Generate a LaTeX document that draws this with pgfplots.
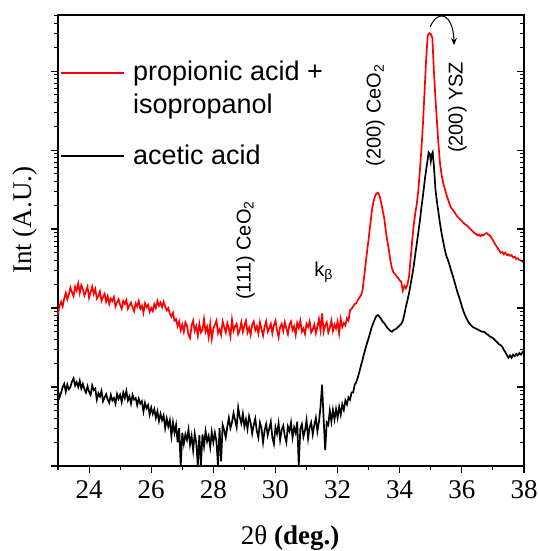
\documentclass[border=0pt]{standalone}
\usepackage{pgfplots}
\pgfplotsset{compat=1.18}
\usepackage{fontspec}
\setmainfont{Liberation Serif}
\newfontfamily\arial{Liberation Sans}
\usetikzlibrary{arrows.meta}
\pgfplotstableread{
x v
23.00 1.92
23.05 2.03
23.10 2.08
23.15 2.02
23.20 2.12
23.25 2.19
23.30 2.11
23.35 2.17
23.40 2.26
23.45 2.20
23.50 2.15
23.55 2.27
23.60 2.22
23.65 2.31
23.70 2.19
23.75 2.29
23.80 2.24
23.85 2.16
23.90 2.21
23.95 2.27
24.00 2.13
24.05 2.20
24.10 2.27
24.15 2.18
24.20 2.24
24.25 2.12
24.30 2.15
24.35 2.21
24.40 2.09
24.45 2.14
24.50 2.18
24.55 2.08
24.60 2.15
24.65 2.05
24.70 2.12
24.75 2.09
24.80 2.14
24.85 2.02
24.90 2.07
24.95 2.11
25.00 2.04
25.05 1.99
25.10 2.09
25.15 2.05
25.20 2.10
25.25 1.99
25.30 2.03
25.35 2.07
25.40 2.01
25.45 1.96
25.50 2.06
25.55 2.02
25.60 2.09
25.65 1.99
25.70 2.03
25.75 1.94
25.80 2.06
25.85 2.01
25.90 2.04
25.95 1.95
26.00 2.00
26.05 1.96
26.10 2.05
26.15 2.00
26.20 2.09
26.25 2.03
26.30 2.07
26.35 2.01
26.40 2.08
26.45 2.02
26.50 1.97
26.55 2.00
26.60 1.93
26.65 1.89
26.70 1.94
26.75 1.84
26.80 1.86
26.85 1.77
26.90 1.83
26.95 1.72
27.00 1.79
27.05 1.70
27.10 1.82
27.15 1.78
27.20 1.66
27.25 1.62
27.30 1.78
27.35 1.84
27.40 1.71
27.45 1.77
27.50 1.65
27.55 1.80
27.60 1.69
27.65 1.72
27.70 1.86
27.75 1.70
27.80 1.76
27.85 1.63
27.90 1.80
27.95 1.61
28.00 1.74
28.05 1.79
28.10 1.84
28.15 1.68
28.20 1.73
28.25 1.66
28.30 1.83
28.35 1.76
28.40 1.69
28.45 1.81
28.50 1.74
28.55 1.64
28.60 1.85
28.65 1.71
28.70 1.77
28.75 1.80
28.80 1.67
28.85 1.72
28.90 1.82
28.95 1.70
29.00 1.78
29.05 1.84
29.10 1.69
29.15 1.75
29.20 1.66
29.25 1.79
29.30 1.83
29.35 1.72
29.40 1.77
29.45 1.68
29.50 1.82
29.55 1.73
29.60 1.65
29.65 1.76
29.70 1.83
29.75 1.70
29.80 1.74
29.85 1.80
29.90 1.68
29.95 1.78
30.00 1.84
30.05 1.72
30.10 1.63
30.15 1.76
30.20 1.80
30.25 1.71
30.30 1.82
30.35 1.74
30.40 1.67
30.45 1.79
30.50 1.83
30.55 1.72
30.60 1.77
30.65 1.66
30.70 1.81
30.75 1.75
30.80 1.84
30.85 1.70
30.90 1.74
30.95 1.67
31.00 1.80
31.05 1.76
31.10 1.83
31.15 1.69
31.20 1.73
31.25 1.79
31.30 1.68
31.35 1.77
31.40 1.86
31.45 1.72
31.50 1.93
31.55 1.70
31.60 1.78
31.65 1.82
31.70 1.69
31.75 1.75
31.80 1.84
31.85 1.71
31.90 1.79
31.95 1.74
32.00 1.83
32.05 1.68
32.10 1.86
32.15 1.76
32.20 1.81
32.25 1.78
32.30 1.87
32.35 1.84
32.40 1.97
32.45 1.99
32.50 2.02
32.55 2.05
32.60 2.06
32.65 2.10
32.70 2.13
32.75 2.16
32.80 2.22
32.85 2.38
32.90 2.55
32.95 2.72
33.00 2.88
33.05 3.05
33.10 3.22
33.15 3.34
33.20 3.41
33.25 3.45
33.30 3.46
33.35 3.42
33.40 3.34
33.45 3.24
33.50 3.14
33.55 2.98
33.60 2.85
33.65 2.74
33.70 2.60
33.75 2.50
33.80 2.45
33.85 2.43
33.90 2.40
33.95 2.38
34.00 2.35
34.05 2.33
34.10 2.22
34.15 2.28
34.20 2.25
34.25 2.30
34.30 2.40
34.35 2.62
34.40 2.85
34.45 3.05
34.50 3.20
34.55 3.32
34.60 3.50
34.65 3.75
34.70 4.02
34.75 4.35
34.80 4.75
34.85 5.15
34.90 5.45
34.95 5.48
35.00 5.47
35.05 5.42
35.10 5.00
35.15 4.65
35.20 4.35
35.25 4.05
35.30 3.82
35.35 3.68
35.40 3.58
35.45 3.51
35.50 3.44
35.55 3.38
35.60 3.32
35.65 3.27
35.70 3.25
35.75 3.22
35.80 3.19
35.85 3.16
35.90 3.14
35.95 3.12
36.00 3.10
36.05 3.08
36.10 3.06
36.15 3.05
36.20 3.03
36.25 3.01
36.30 2.99
36.35 2.97
36.40 2.95
36.45 2.94
36.50 2.92
36.55 2.93
36.60 2.91
36.65 2.93
36.70 2.92
36.75 2.94
36.80 2.95
36.85 2.93
36.90 2.92
36.95 2.89
37.00 2.86
37.05 2.82
37.10 2.79
37.15 2.76
37.20 2.73
37.25 2.70
37.30 2.71
37.35 2.68
37.40 2.70
37.45 2.67
37.50 2.68
37.55 2.66
37.60 2.67
37.65 2.64
37.70 2.65
37.75 2.62
37.80 2.63
37.85 2.61
37.90 2.60
37.95 2.59
38.00 2.57
}\redtable
\pgfplotstableread{
x v
23.00 0.95
23.05 0.87
23.10 0.93
23.15 1.00
23.20 1.04
23.25 0.94
23.30 1.03
23.35 0.97
23.40 1.00
23.45 1.07
23.50 1.11
23.55 1.02
23.60 1.06
23.65 1.00
23.70 1.08
23.75 0.98
23.80 1.04
23.85 0.97
23.90 0.93
23.95 1.01
24.00 0.94
24.05 0.90
24.10 1.02
24.15 0.96
24.20 0.98
24.25 0.84
24.30 0.92
24.35 0.88
24.40 0.95
24.45 0.82
24.50 0.87
24.55 0.91
24.60 0.84
24.65 0.80
24.70 0.90
24.75 0.83
24.80 0.86
24.85 0.79
24.90 0.91
24.95 0.85
25.00 0.90
25.05 0.81
25.10 0.93
25.15 0.86
25.20 0.95
25.25 0.83
25.30 0.88
25.35 0.79
25.40 0.90
25.45 0.84
25.50 0.86
25.55 0.77
25.60 0.85
25.65 0.79
25.70 0.82
25.75 0.69
25.80 0.80
25.85 0.73
25.90 0.77
25.95 0.65
26.00 0.74
26.05 0.66
26.10 0.72
26.15 0.61
26.20 0.69
26.25 0.57
26.30 0.66
26.35 0.58
26.40 0.64
26.45 0.48
26.50 0.60
26.55 0.50
26.60 0.58
26.65 0.38
26.70 0.55
26.75 0.42
26.80 0.52
26.85 0.30
26.90 0.48
26.95 0.00
27.00 0.42
27.05 0.28
27.10 0.40
27.15 0.33
27.20 0.46
27.25 0.27
27.30 0.38
27.35 0.20
27.40 0.41
27.45 0.30
27.50 0.00
27.55 0.39
27.60 0.00
27.65 0.40
27.70 0.25
27.75 0.44
27.80 0.31
27.85 0.38
27.90 0.24
27.95 0.43
28.00 0.30
28.05 0.42
28.10 0.31
28.15 0.00
28.20 0.48
28.25 0.06
28.30 0.52
28.35 0.45
28.40 0.36
28.45 0.50
28.50 0.61
28.55 0.48
28.60 0.55
28.65 0.67
28.70 0.58
28.75 0.49
28.80 0.74
28.85 0.62
28.90 0.54
28.95 0.66
29.00 0.50
29.05 0.59
29.10 0.47
29.15 0.63
29.20 0.55
29.25 0.41
29.30 0.52
29.35 0.60
29.40 0.44
29.45 0.36
29.50 0.55
29.55 0.48
29.60 0.30
29.65 0.45
29.70 0.53
29.75 0.39
29.80 0.47
29.85 0.56
29.90 0.36
29.95 0.28
30.00 0.49
30.05 0.41
30.10 0.54
30.15 0.33
30.20 0.46
30.25 0.51
30.30 0.38
30.35 0.30
30.40 0.50
30.45 0.44
30.50 0.55
30.55 0.36
30.60 0.49
30.65 0.42
30.70 0.56
30.75 0.00
30.80 0.47
30.85 0.53
30.90 0.37
30.95 0.45
31.00 0.58
31.05 0.35
31.10 0.49
31.15 0.55
31.20 0.40
31.25 0.52
31.30 0.61
31.35 0.44
31.40 0.56
31.45 0.75
31.50 1.03
31.55 0.60
31.60 0.20
31.65 0.55
31.70 0.52
31.75 0.70
31.80 0.56
31.85 0.71
31.90 0.59
31.95 0.72
32.00 0.61
32.05 0.75
32.10 0.65
32.15 0.78
32.20 0.71
32.25 0.83
32.30 0.78
32.35 0.87
32.40 0.84
32.45 0.93
32.50 0.93
32.55 1.03
32.60 1.06
32.65 1.12
32.70 1.19
32.75 1.27
32.80 1.34
32.85 1.42
32.90 1.49
32.95 1.56
33.00 1.62
33.05 1.69
33.10 1.76
33.15 1.81
33.20 1.86
33.25 1.90
33.30 1.91
33.35 1.89
33.40 1.86
33.45 1.83
33.50 1.81
33.55 1.78
33.60 1.75
33.65 1.73
33.70 1.71
33.75 1.70
33.80 1.72
33.85 1.73
33.90 1.74
33.95 1.76
34.00 1.78
34.05 1.80
34.10 1.84
34.15 1.92
34.20 2.02
34.25 2.10
34.30 2.19
34.35 2.30
34.40 2.41
34.45 2.53
34.50 2.68
34.55 2.82
34.60 2.96
34.65 3.11
34.70 3.28
34.75 3.43
34.80 3.60
34.85 3.75
34.90 3.88
34.93 3.97
34.97 3.95
35.00 3.86
35.03 3.94
35.06 3.97
35.10 3.80
35.15 3.50
35.20 3.34
35.25 3.20
35.30 3.06
35.35 2.94
35.40 2.84
35.45 2.74
35.50 2.66
35.55 2.61
35.60 2.55
35.65 2.48
35.70 2.42
35.75 2.35
35.80 2.28
35.85 2.21
35.90 2.15
35.95 2.09
36.00 2.02
36.05 1.96
36.10 1.91
36.15 1.87
36.20 1.83
36.25 1.80
36.30 1.78
36.35 1.76
36.40 1.75
36.45 1.74
36.50 1.73
36.55 1.72
36.60 1.71
36.65 1.70
36.70 1.70
36.75 1.69
36.80 1.67
36.85 1.66
36.90 1.64
36.95 1.63
37.00 1.62
37.05 1.60
37.10 1.58
37.15 1.56
37.20 1.54
37.25 1.53
37.30 1.51
37.35 1.47
37.40 1.44
37.45 1.40
37.50 1.37
37.55 1.40
37.60 1.37
37.65 1.41
37.70 1.39
37.75 1.42
37.80 1.40
37.85 1.43
37.90 1.41
37.95 1.44
38.00 1.43
}\blacktable
\begin{document}
\begin{tikzpicture}
\pgfplotsset{
  myaxis/.style={
    scale only axis, width=466bp, height=451bp,
    xmin=23, xmax=38, ymin=0, ymax=5.71,
    ytick={0,1,2,3,4,5}, yticklabels={},
    minor ytick={0.301,0.477,0.602,0.699,0.778,0.845,0.903,0.954,
      1.301,1.477,1.602,1.699,1.778,1.845,1.903,1.954,
      2.301,2.477,2.602,2.699,2.778,2.845,2.903,2.954,
      3.301,3.477,3.602,3.699,3.778,3.845,3.903,3.954,
      4.301,4.477,4.602,4.699,4.778,4.845,4.903,4.954,
      5.301,5.477,5.602,5.699},
    major tick length=7bp, minor tick length=4bp,
    axis line style={line width=1.6bp},
    every tick/.style={black, line width=1.1bp},
  }
}
\begin{axis}[myaxis,
  xtick={24,26,...,38}, minor xtick={23,25,...,37},
  xtick pos=left, ytick pos=left,
  tick align=outside,
  clip=false,
  /pgf/number format/assume math mode=true,
  xticklabel style={font=\fontsize{27bp}{32bp}\selectfont, yshift=-4bp},
  xlabel={2θ \textbf{(deg.)}}, ylabel={Int (A.U.)},
  label style={font=\fontsize{27bp}{32bp}\selectfont},
  xlabel style={at={(rel axis cs:0.498,-0.160)}, anchor=center},
  ylabel style={at={(rel axis cs:-0.071,0.545)}, anchor=center},
]
\addplot[red, line width=1.7bp] table[x=x, y=v] {\redtable};
\addplot[black, line width=1.7bp] table[x=x, y=v] {\blacktable};
% legend
\draw[red, line width=1.7bp] (rel axis cs:0.0064,0.8714) -- ++(63bp,0pt);
\node[anchor=base west, inner sep=0pt, font=\arial\fontsize{27bp}{33bp}\selectfont] at (rel axis cs:0.1609,0.8537) {propionic acid +};
\node[anchor=base west, inner sep=0pt, font=\arial\fontsize{27bp}{33bp}\selectfont] at (rel axis cs:0.1609,0.7805) {isopropanol};
\draw[black, line width=1.7bp] (rel axis cs:0.0064,0.6874) -- ++(63bp,0pt);
\node[anchor=base west, inner sep=0pt, font=\arial\fontsize{27bp}{33bp}\selectfont] at (rel axis cs:0.1609,0.6674) {acetic acid};
% annotations
\node[rotate=90, font=\arial\fontsize{20bp}{24bp}\selectfont] at (axis cs:33.22,4.44) {(200) CeO\textsubscript{2}};
\node[rotate=90, font=\arial\fontsize{20bp}{24bp}\selectfont] at (axis cs:29.03,2.73) {(111) CeO\textsubscript{2}};
\node[rotate=90, font=\arial\fontsize{20bp}{24bp}\selectfont] at (axis cs:35.86,4.54) {(200) YSZ};
\node[font=\arial\fontsize{20bp}{24bp}\selectfont] at (axis cs:31.55,2.45) {k\textsubscript{β}};
\draw[line width=1bp, -{Stealth[length=7bp,width=6bp]}] (axis cs:34.98,5.56) .. controls (axis cs:35.25,5.8) and (axis cs:35.72,5.72) .. (axis cs:35.75,5.33);
\end{axis}
\begin{axis}[myaxis, axis x line=none, axis y line*=right, tick align=inside]
\end{axis}
\pgfresetboundingbox
\path[use as bounding box] (-58bp,-85bp) rectangle (481bp,466bp);
\end{tikzpicture}
\end{document}
